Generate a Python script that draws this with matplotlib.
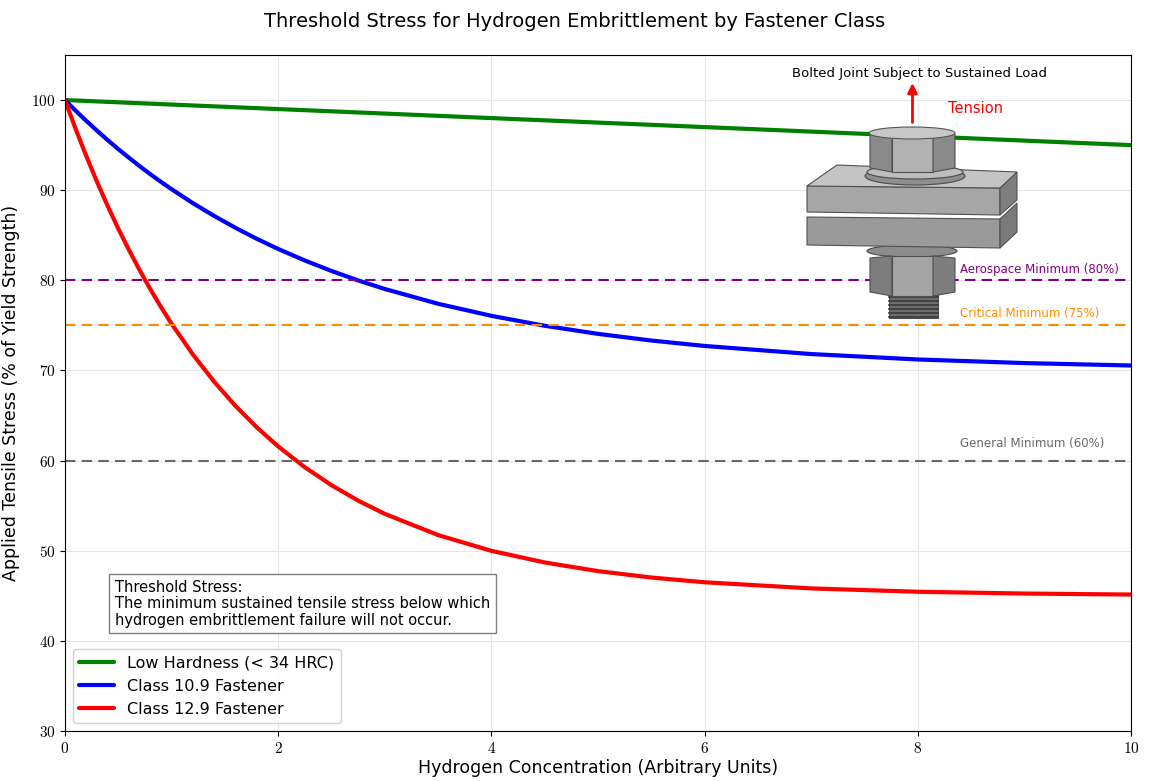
import matplotlib
matplotlib.use("Agg")
import matplotlib.pyplot as plt
import matplotlib.patches as patches
from matplotlib.ticker import FuncFormatter

plt.rcParams['mathtext.fontset'] = 'cm'

# data
conc = [0, 0.1, 0.2, 0.3, 0.4, 0.5, 0.6, 0.7, 0.8, 0.9, 1.0, 1.2, 1.4, 1.6, 1.8, 2.0,
        2.25, 2.5, 2.75, 3.0, 3.5, 4.0, 4.5, 5.0, 5.5, 6.0, 7.0, 8.0, 9.0, 10.0]
class_109 = [100, 98.82, 97.69, 96.61, 95.56, 94.56, 93.60, 92.67, 91.78, 90.93, 90.11,
             88.56, 87.14, 85.82, 84.60, 83.48, 82.20, 81.04, 79.99, 79.04, 77.40, 76.06,
             74.96, 74.06, 73.32, 72.72, 71.82, 71.22, 70.82, 70.55]
class_129 = [100, 96.80, 93.78, 90.94, 88.26, 85.74, 83.37, 81.14, 79.03, 77.05, 75.18,
             71.77, 68.74, 66.06, 63.68, 61.57, 59.26, 57.27, 55.56, 54.09, 51.74, 49.99,
             48.70, 47.74, 47.03, 46.50, 45.82, 45.45, 45.25, 45.14]
conc_low = [0, 10]
low_hardness = [100, 95]

series_labels = ['Low Hardness (< 34 HRC)', 'Class 10.9 Fastener', 'Class 12.9 Fastener']
series_colors = ['green', 'blue', 'red']

ref_levels = [80, 75, 60]
ref_labels = ['Aerospace Minimum (80%)', 'Critical Minimum (75%)', 'General Minimum (60%)']
ref_colors = ['purple', 'darkorange', 'dimgray']
ref_offsets = [0.5, 0.6, 1.2]

fig = plt.figure(figsize=(11.5, 7.81), dpi=100)
ax = fig.add_axes([0.0565, 0.064, 0.927, 0.8656])

for xs, ys, lab, col in zip([conc_low, conc, conc], [low_hardness, class_109, class_129],
                            series_labels, series_colors):
    ax.plot(xs, ys, color=col, lw=3, label=lab, solid_capstyle='round')

for lvl, lab, col, off in zip(ref_levels, ref_labels, ref_colors, ref_offsets):
    ax.axhline(lvl, color=col, ls='--', lw=1.5, dashes=(5, 3))
    ax.text(8.4, lvl + off, lab, color=col, fontsize=8.5, ha='left', va='bottom')

ax.set_xlim(0, 10)
ax.set_ylim(30, 105)
ax.set_xticks([0, 2, 4, 6, 8, 10])
ax.set_yticks([30, 40, 50, 60, 70, 80, 90, 100])
fmt = FuncFormatter(lambda v, p: f"${v:g}$")
ax.xaxis.set_major_formatter(fmt)
ax.yaxis.set_major_formatter(fmt)
ax.tick_params(labelsize=11)
ax.grid(True, color='#e6e6e6', lw=0.8)
ax.set_axisbelow(True)

ax.set_xlabel('Hydrogen Concentration (Arbitrary Units)', fontsize=12.5, labelpad=2)
ax.set_ylabel('Applied Tensile Stress (% of Yield Strength)', fontsize=12.5, labelpad=8)
fig.suptitle('Threshold Stress for Hydrogen Embrittlement by Fastener Class', fontsize=14, y=0.985)

ax.legend(loc='lower left', fontsize=11.5, framealpha=0.9, handlelength=2.2,
          borderaxespad=0.5, bbox_to_anchor=(0.0, 0.0))

ax.text(0.047, 0.223, 'Threshold Stress:\nThe minimum sustained tensile stress below which\n'
        'hydrogen embrittlement failure will not occur.',
        transform=ax.transAxes, fontsize=10.5, va='top', ha='left', linespacing=1.1,
        bbox=dict(boxstyle='square,pad=0.4', fc='white', ec='gray', lw=1))

# bolted joint sketch (pixel-like coordinates inside an inset)
ins = fig.add_axes([800/1150, (781-325)/781, 225/1150, 205/781])
ins.set_xlim(800, 1025)
ins.set_ylim(325, 120)
ins.axis('off')
ins.patch.set_alpha(0)

def poly(pts, fc, ec='#505050', lw=0.8, z=2):
    ins.add_patch(patches.Polygon(pts, closed=True, fc=fc, ec=ec, lw=lw, zorder=z))

# threads
poly([(889, 290), (938, 290), (938, 318), (889, 318)], '#6e6e6e', z=1)
for ty in range(293, 318, 4):
    ins.plot([889, 938], [ty, ty], color='#3a3a3a', lw=1.2, zorder=1.5)
# nut
poly([(870, 258), (892, 256), (892, 296), (870, 292)], '#7d7d7d', z=3)
poly([(892, 256), (933, 256), (933, 296), (892, 296)], '#a4a4a4', z=3)
poly([(933, 256), (955, 258), (955, 292), (933, 296)], '#7d7d7d', z=3)
# lower washer
ins.add_patch(patches.Ellipse((912, 251), 90, 12, fc='#8c8c8c', ec='#4a4a4a', lw=0.8, zorder=2.5))
# bottom plate
poly([(807, 217), (1000, 219), (1000, 248), (807, 245)], '#9a9a9a', z=4)
poly([(1000, 219), (1017, 203), (1017, 232), (1000, 248)], '#7a7a7a', z=4)
# top plate
poly([(807, 186), (1000, 188), (1000, 215), (807, 212)], '#a6a6a6', z=5)
poly([(1000, 188), (1017, 172), (1017, 200), (1000, 215)], '#7e7e7e', z=5)
poly([(807, 186), (837, 165), (1017, 172), (1000, 188)], '#c4c4c4', z=5)
# upper washer
ins.add_patch(patches.Ellipse((915, 176), 100, 18, fc='#8e8e8e', ec='#4a4a4a', lw=0.8, zorder=6))
ins.add_patch(patches.Ellipse((915, 172), 96, 14, fc='#bdbdbd', ec='#4a4a4a', lw=0.8, zorder=6))
# head
poly([(870, 134), (892, 132), (892, 172), (870, 168)], '#8a8a8a', z=7)
poly([(892, 132), (933, 132), (933, 172), (892, 172)], '#b2b2b2', z=7)
poly([(933, 132), (955, 134), (955, 168), (933, 172)], '#8a8a8a', z=7)
ins.add_patch(patches.Ellipse((912, 133), 86, 12, fc='#c8c8c8', ec='#555555', lw=0.8, zorder=7.5))

# annotation above the bolt
ax.annotate('', xy=(7.95, 102.2), xytext=(7.95, 97.2),
            arrowprops=dict(arrowstyle='-|>', color='red', lw=2, mutation_scale=14))
ax.text(8.02, 102.9, 'Bolted Joint Subject to Sustained Load', fontsize=9.5, ha='center', va='center')
ax.text(8.54, 99.1, 'Tension', color='red', fontsize=10.5, ha='center', va='center')

fig.savefig('out.png', dpi=100)
